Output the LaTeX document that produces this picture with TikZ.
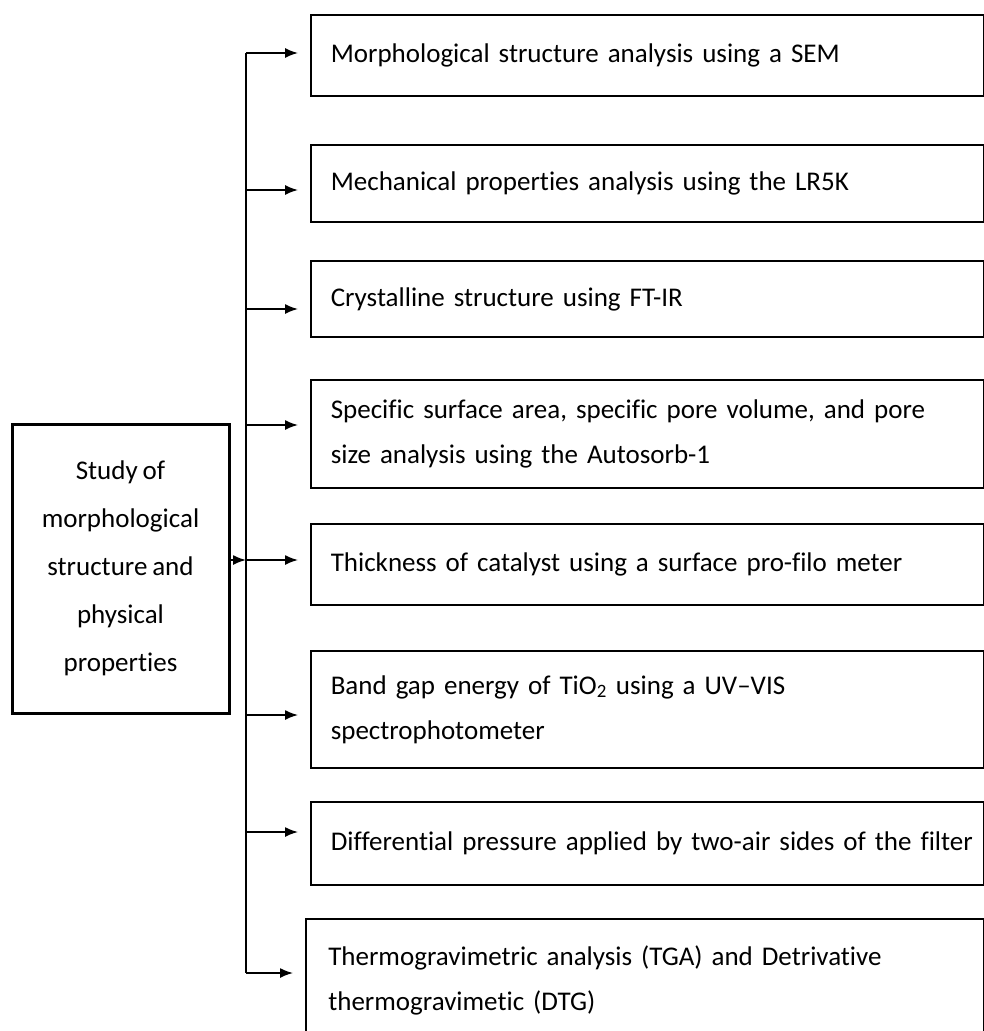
\documentclass[tikz,border=0pt]{standalone}
\usepackage{fontspec}
\setmainfont[Ligatures={NoCommon},WordSpace=0.8]{Carlito}
\usetikzlibrary{arrows.meta}
\begin{document}
\begin{tikzpicture}[x=1pt,y=-1pt,
    item/.style={draw,line width=1.6pt,rectangle,anchor=west,minimum width=673pt,text width=633pt,inner xsep=20pt,align=left,font=\fontsize{27}{45}\selectfont},
    arr/.style={-{Latex[length=13pt,width=10pt]},line width=1.6pt,shorten >=12pt}]
    \useasboundingbox (0,0) rectangle (984,1031);
    \clip (0,0) rectangle (984,1031);

    \node[draw,line width=3pt,minimum width=217pt,minimum height=289pt,align=center,font=\fontsize{27}{48}\selectfont] (study) at (120.5,568.5) {Study of\\morphological\\structure and\\physical\\properties};

    \node[item,minimum height=81pt] (sem) at (310,55.5) {Morphological structure analysis using a SEM};
    \node[item,minimum height=77pt] (lrfk) at (310,183.5) {Mechanical properties analysis using the LR5K};
    \node[item,minimum height=76pt] (ftir) at (310,299) {Crystalline structure using FT-IR};
    \node[item,minimum height=108pt] (bet) at (310,434) {Specific surface area, specific pore volume, and pore\\size analysis using the Autosorb-1};
    \node[item,minimum height=81pt] (thick) at (310,564.5) {Thickness of catalyst using a surface pro-filo meter};
    \node[item,minimum height=117pt] (uvvis) at (310,709.5) {Band gap energy of TiO\textsubscript{2} using a UV--VIS\\spectrophotometer};
    \node[item,minimum height=83pt] (press) at (310,843.5) {\mbox{Differential pressure applied by two-air sides of the filter}};
    \node[item,minimum height=122pt,minimum width=678pt] (tga) at (305,980) {Thermogravimetric analysis (TGA) and Detrivative\\thermogravimetic (DTG)};

    % trunk
    \coordinate (t1) at (246,53);
    \coordinate (t2) at (246,190);
    \coordinate (t3) at (246,309);
    \coordinate (t4) at (246,425);
    \coordinate (t5) at (246,560);
    \coordinate (t6) at (246,715);
    \coordinate (t7) at (246,832);
    \coordinate (t8) at (246,973);
    \draw[line width=1.6pt] (t1) -- (t8);

    \foreach \n/\b in {1/sem,2/lrfk,3/ftir,4/bet,5/thick,6/uvvis,7/press,8/tga}
      \draw[arr] (t\n) -- (t\n -| \b.west);

    \draw[arr,shorten >=0pt] (study.east |- t5) -- (t5);
\end{tikzpicture}
\end{document}
